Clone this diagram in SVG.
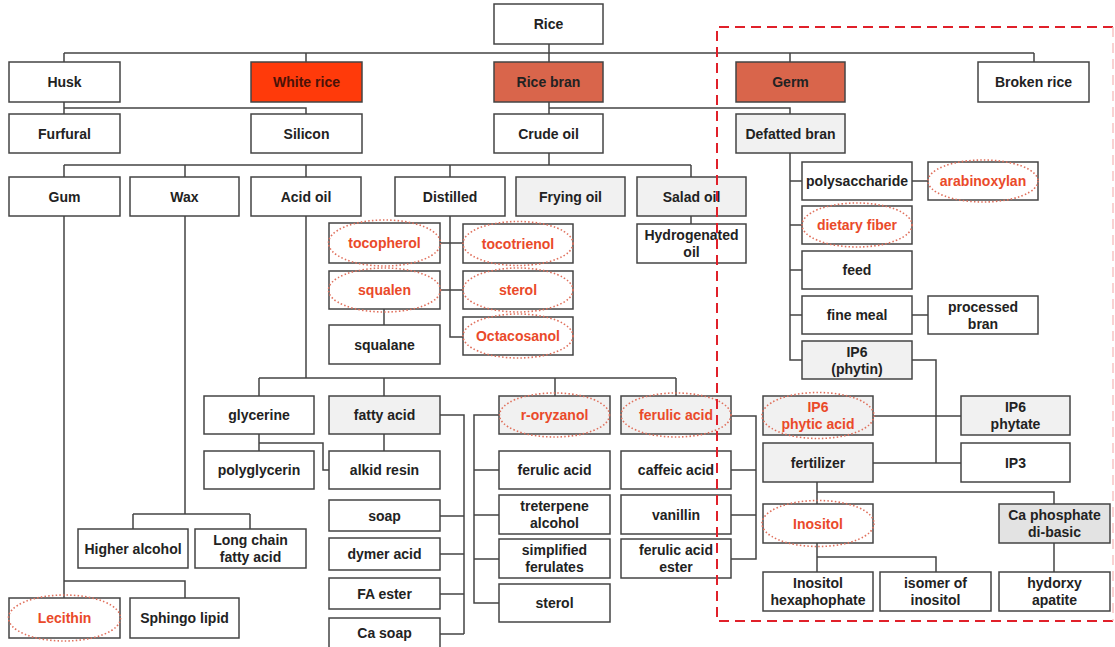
<svg xmlns="http://www.w3.org/2000/svg" width="1115" height="647" viewBox="0 0 1115 647">
<style>
.b{fill:#fff;stroke:#444;stroke-width:1.5}
.g{fill:#f1f1f1}
.g2{fill:#e3e3e3}
.wr{fill:#ff3a0a}
.rb{fill:#d9654b}
.t{font-family:"Liberation Sans",Arial,sans-serif;font-size:14px;font-weight:bold;fill:#222;text-anchor:middle}
.r{fill:#ea4a2a}
.dk{fill:#4a1208}
.e{fill:none;stroke:#e0705c;stroke-width:1.6;stroke-dasharray:1.5 2.2}
.c{fill:none;stroke:#444;stroke-width:1.5}
.d{fill:none;stroke:#e0202a;stroke-width:2;stroke-dasharray:10 6}
.df{fill:none;stroke:#f7c4c4;stroke-width:1.5;stroke-dasharray:10 6}
</style>
<rect width="1115" height="647" fill="#fff"/>
<g id="connectors" class="c">
<path d="M549 44V53M64 53H1034M64 53V62M306 53V62M549 53V62M790 53V62M1034 53V62"/>
<path d="M64 102V114M64 108H306V114"/>
<path d="M549 102V114M549 108H790V114"/>
<path d="M549 153V165M64 165H691M64 165V177M185 165V177M306 165V177M450 165V177M691 165V177"/>
<path d="M691 216V224"/>
<path d="M450 216V337H463M440 243H463M440 290H463"/>
<path d="M384 309V325"/>
<path d="M306 216V378M259 378H676M259 378V396M384 378V396M555 378V396M676 378V396"/>
<path d="M259 434V451M259 443H323V470H329"/>
<path d="M384 434V451M440 415H464V634M440 516H464M440 554H464M440 594H464M440 634H464"/>
<path d="M499 415H474V603H499M474 470H499M474 515H499M474 559H499"/>
<path d="M731 416H756V559H731M731 470H756M731 515H756"/>
<path d="M64 216V598M64 581H185V598"/>
<path d="M185 216V514M133 514H250M133 514V529M250 514V529"/>
<path d="M790 152V360H802M790 181H802M790 225H802M790 270H802M790 315H802"/>
<path d="M912 181H928M912 315H928"/>
<path d="M912 360H936V463"/>
<path d="M873 416H961M873 463H961"/>
<path d="M817 482V504M817 492H1054V504"/>
<path d="M817 543V572M817 557H936V572"/>
<path d="M1054 543V572"/>
</g>
<g id="rice"><rect class="b" x="494" y="4" width="109" height="40"/><text class="t" x="548.5" y="29">Rice</text></g>
<g id="husk"><rect class="b" x="9" y="62" width="111" height="40"/><text class="t" x="64.5" y="87">Husk</text></g>
<g id="whiterice"><rect class="b wr" x="251" y="62" width="111" height="40"/><text class="t dk" x="306.5" y="87">White rice</text></g>
<g id="ricebran"><rect class="b rb" x="494" y="62" width="109" height="40"/><text class="t" x="548.5" y="87">Rice bran</text></g>
<g id="germ"><rect class="b rb" x="736" y="62" width="109" height="40"/><text class="t" x="790.5" y="87">Germ</text></g>
<g id="brokenrice"><rect class="b" x="978" y="62" width="111" height="40"/><text class="t" x="1033.5" y="87">Broken rice</text></g>
<g id="furfural"><rect class="b" x="9" y="114" width="111" height="39"/><text class="t" x="64.5" y="138.5">Furfural</text></g>
<g id="silicon"><rect class="b" x="251" y="114" width="111" height="39"/><text class="t" x="306.5" y="138.5">Silicon</text></g>
<g id="crudeoil"><rect class="b" x="494" y="114" width="109" height="39"/><text class="t" x="548.5" y="138.5">Crude oil</text></g>
<g id="defattedbran"><rect class="b g" x="736" y="114" width="109" height="39"/><text class="t" x="790.5" y="138.5">Defatted bran</text></g>
<g id="gum"><rect class="b" x="9" y="177" width="111" height="39"/><text class="t" x="64.5" y="201.5">Gum</text></g>
<g id="wax"><rect class="b" x="130" y="177" width="109" height="39"/><text class="t" x="184.5" y="201.5">Wax</text></g>
<g id="acidoil"><rect class="b" x="251" y="177" width="110" height="39"/><text class="t" x="306" y="201.5">Acid oil</text></g>
<g id="distilled"><rect class="b" x="395" y="177" width="110" height="39"/><text class="t" x="450" y="201.5">Distilled</text></g>
<g id="fryingoil"><rect class="b g" x="516" y="177" width="109" height="39"/><text class="t" x="570.5" y="201.5">Frying oil</text></g>
<g id="saladoil"><rect class="b g" x="637" y="177" width="109" height="39"/><text class="t" x="691.5" y="201.5">Salad oil</text></g>
<g id="hydrogenated"><rect class="b" x="637" y="224" width="109" height="39"/><text class="t" x="691.5" y="240">Hydrogenated</text><text class="t" x="691.5" y="257">oil</text></g>
<g id="tocopherol"><rect class="b" x="329" y="223" width="111" height="40"/><ellipse class="e" cx="384.5" cy="243" rx="56" ry="23"/><text class="t r" x="384.5" y="248">tocopherol</text></g>
<g id="squalen"><rect class="b" x="329" y="271" width="111" height="38"/><ellipse class="e" cx="384.5" cy="290" rx="56" ry="22"/><text class="t r" x="384.5" y="295">squalen</text></g>
<g id="squalane"><rect class="b" x="329" y="325" width="111" height="39"/><text class="t" x="384.5" y="349.5">squalane</text></g>
<g id="tocotrienol"><rect class="b" x="463" y="224" width="110" height="39"/><ellipse class="e" cx="518" cy="243.5" rx="55" ry="22"/><text class="t r" x="518" y="248.5">tocotrienol</text></g>
<g id="sterol1"><rect class="b" x="463" y="271" width="110" height="38"/><ellipse class="e" cx="518" cy="290" rx="55" ry="22"/><text class="t r" x="518" y="295">sterol</text></g>
<g id="octacosanol"><rect class="b" x="463" y="317" width="110" height="38"/><ellipse class="e" cx="518" cy="336" rx="55" ry="22"/><text class="t r" x="518" y="341">Octacosanol</text></g>
<g id="polysaccharide"><rect class="b" x="802" y="162" width="110" height="38"/><text class="t" x="857" y="186">polysaccharide</text></g>
<g id="arabinoxylan"><rect class="b" x="928" y="162" width="110" height="38"/><ellipse class="e" cx="983" cy="181" rx="55" ry="21"/><text class="t r" x="983" y="186">arabinoxylan</text></g>
<g id="dietaryfiber"><rect class="b" x="802" y="206" width="110" height="38"/><ellipse class="e" cx="857" cy="225" rx="55" ry="22"/><text class="t r" x="857" y="230">dietary fiber</text></g>
<g id="feed"><rect class="b" x="802" y="251" width="110" height="38"/><text class="t" x="857" y="275">feed</text></g>
<g id="finemeal"><rect class="b" x="802" y="296" width="110" height="38"/><text class="t" x="857" y="320">fine meal</text></g>
<g id="processedbran"><rect class="b" x="928" y="296" width="110" height="38"/><text class="t" x="983" y="311.5">processed</text><text class="t" x="983" y="328.5">bran</text></g>
<g id="ip6phytin"><rect class="b g" x="802" y="341" width="110" height="38"/><text class="t" x="857" y="356.5">IP6</text><text class="t" x="857" y="373.5">(phytin)</text></g>
<g id="glycerine"><rect class="b" x="204" y="396" width="110" height="38"/><text class="t" x="259" y="420">glycerine</text></g>
<g id="fattyacid"><rect class="b g" x="329" y="396" width="111" height="38"/><text class="t" x="384.5" y="420">fatty acid</text></g>
<g id="roryzanol"><rect class="b g" x="499" y="396" width="111" height="38"/><ellipse class="e" cx="554.5" cy="415" rx="55" ry="22"/><text class="t r" x="554.5" y="420">r-oryzanol</text></g>
<g id="ferulicacid1"><rect class="b g" x="621" y="396" width="110" height="38"/><ellipse class="e" cx="676" cy="415" rx="55" ry="22"/><text class="t r" x="676" y="420">ferulic acid</text></g>
<g id="ip6phyticacid"><rect class="b g" x="763" y="396" width="110" height="39"/><ellipse class="e" cx="818" cy="415.5" rx="56" ry="23"/><text class="t r" x="818" y="411.5">IP6</text><text class="t r" x="818" y="428.5">phytic acid</text></g>
<g id="ip6phytate"><rect class="b g" x="961" y="396" width="109" height="39"/><text class="t" x="1015.5" y="411.5">IP6</text><text class="t" x="1015.5" y="428.5">phytate</text></g>
<g id="polyglycerin"><rect class="b" x="204" y="451" width="110" height="38"/><text class="t" x="259" y="475">polyglycerin</text></g>
<g id="alkidresin"><rect class="b" x="329" y="451" width="111" height="38"/><text class="t" x="384.5" y="475">alkid resin</text></g>
<g id="ferulicacid2"><rect class="b" x="499" y="451" width="111" height="38"/><text class="t" x="554.5" y="475">ferulic acid</text></g>
<g id="caffeicacid"><rect class="b" x="621" y="451" width="110" height="38"/><text class="t" x="676" y="475">caffeic acid</text></g>
<g id="fertilizer"><rect class="b g" x="763" y="443" width="110" height="39"/><text class="t" x="818" y="467.5">fertilizer</text></g>
<g id="ip3"><rect class="b" x="961" y="443" width="109" height="39"/><text class="t" x="1015.5" y="467.5">IP3</text></g>
<g id="soap"><rect class="b" x="329" y="500" width="111" height="31"/><text class="t" x="384.5" y="520.5">soap</text></g>
<g id="dymeracid"><rect class="b" x="329" y="538" width="111" height="32"/><text class="t" x="384.5" y="559">dymer acid</text></g>
<g id="faester"><rect class="b" x="329" y="578" width="111" height="31"/><text class="t" x="384.5" y="598.5">FA ester</text></g>
<g id="casoap"><rect class="b" x="329" y="618" width="111" height="32"/><text class="t" x="384.5" y="638">Ca soap</text></g>
<g id="treterpene"><rect class="b" x="499" y="495" width="111" height="39"/><text class="t" x="554.5" y="511">treterpene</text><text class="t" x="554.5" y="528">alcohol</text></g>
<g id="simplified"><rect class="b" x="499" y="539" width="111" height="39"/><text class="t" x="554.5" y="555">simplified</text><text class="t" x="554.5" y="572">ferulates</text></g>
<g id="sterol2"><rect class="b" x="499" y="584" width="111" height="38"/><text class="t" x="554.5" y="608">sterol</text></g>
<g id="vanillin"><rect class="b" x="621" y="495" width="110" height="39"/><text class="t" x="676" y="519.5">vanillin</text></g>
<g id="ferulicester"><rect class="b" x="621" y="539" width="110" height="39"/><text class="t" x="676" y="555">ferulic acid</text><text class="t" x="676" y="572">ester</text></g>
<g id="inositol"><rect class="b" x="763" y="504" width="110" height="39"/><ellipse class="e" cx="818" cy="523.5" rx="56" ry="23"/><text class="t r" x="818" y="528.5">Inositol</text></g>
<g id="caphosphate"><rect class="b g2" x="999" y="504" width="111" height="39"/><text class="t" x="1054.5" y="519.5">Ca phosphate</text><text class="t" x="1054.5" y="536.5">di-basic</text></g>
<g id="inositolhexa"><rect class="b" x="763" y="572" width="110" height="39"/><text class="t" x="818" y="587.5">Inositol</text><text class="t" x="818" y="604.5">hexaphophate</text></g>
<g id="isomer"><rect class="b" x="880" y="572" width="111" height="39"/><text class="t" x="935.5" y="587.5">isomer of</text><text class="t" x="935.5" y="604.5">inositol</text></g>
<g id="hydroxyapatite"><rect class="b" x="999" y="572" width="111" height="39"/><text class="t" x="1054.5" y="587.5">hydorxy</text><text class="t" x="1054.5" y="604.5">apatite</text></g>
<g id="higheralcohol"><rect class="b" x="78" y="529" width="110" height="39"/><text class="t" x="133" y="553.5">Higher alcohol</text></g>
<g id="longchain"><rect class="b" x="195" y="529" width="111" height="39"/><text class="t" x="250.5" y="545">Long chain</text><text class="t" x="250.5" y="562">fatty acid</text></g>
<g id="lecithin"><rect class="b" x="9" y="598" width="111" height="40"/><ellipse class="e" cx="64.5" cy="618" rx="56" ry="23"/><text class="t r" x="64.5" y="623">Lecithin</text></g>
<g id="sphingolipid"><rect class="b" x="130" y="598" width="109" height="40"/><text class="t" x="184.5" y="623">Sphingo lipid</text></g>
<g id="highlight">
<path class="d" d="M1113 27H717V621H1113"/>
<path class="df" d="M1113 27V621"/>
</g>
</svg>
